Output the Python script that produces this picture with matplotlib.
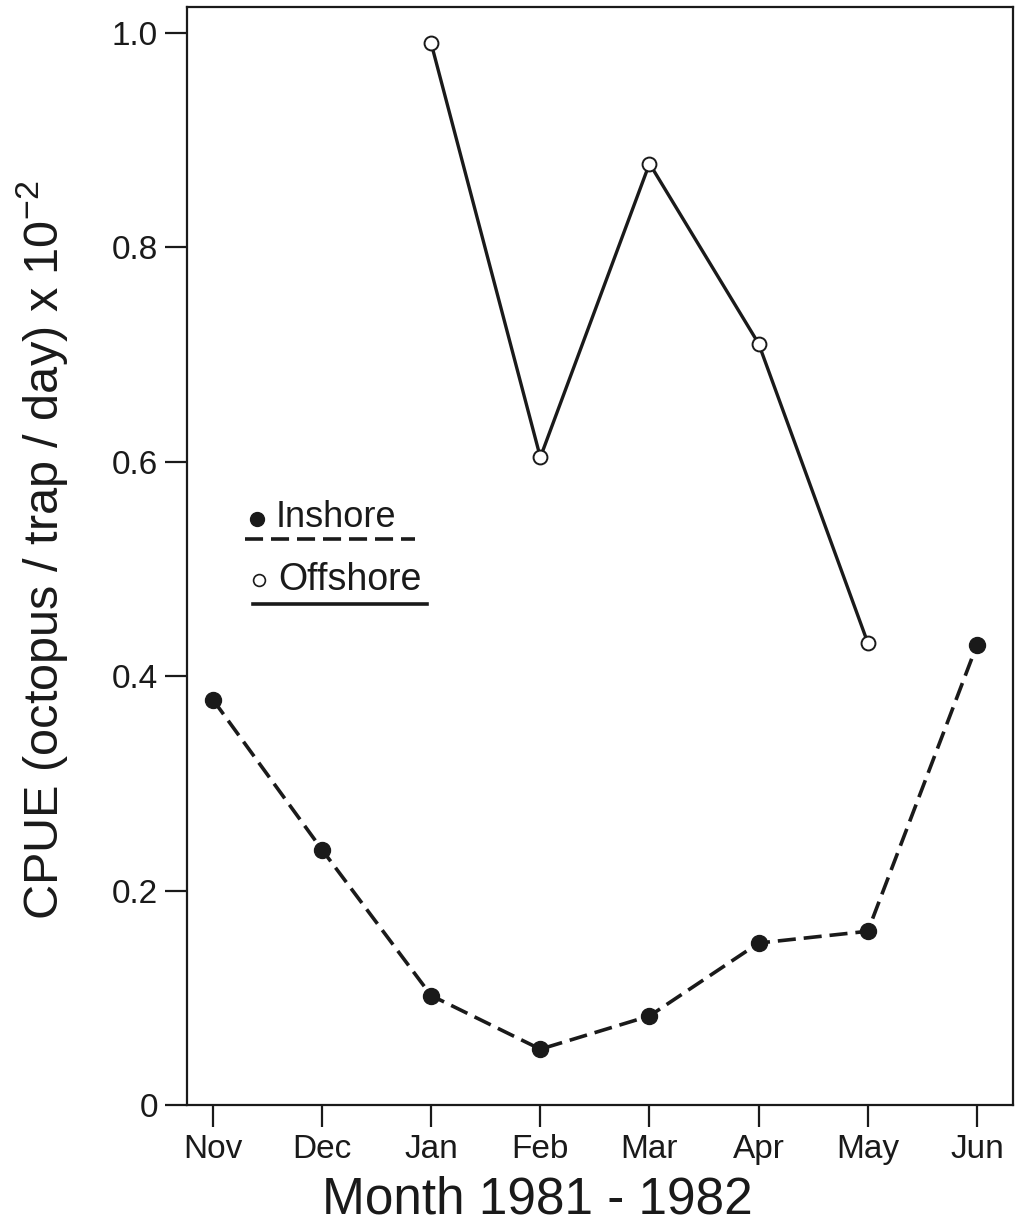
import numpy as np
import matplotlib
matplotlib.use('Agg')
import matplotlib.pyplot as plt

plt.rcParams['font.family'] = ['Liberation Sans', 'DejaVu Sans']
plt.rcParams['mathtext.fontset'] = 'custom'
plt.rcParams['mathtext.rm'] = 'Liberation Sans'
plt.rcParams['mathtext.it'] = 'Liberation Sans'

# data
months = ['Nov', 'Dec', 'Jan', 'Feb', 'Mar', 'Apr', 'May', 'Jun']
inshore = [0.378, 0.238, 0.102, 0.052, 0.083, 0.151, 0.162, 0.429]
offshore_months = ['Jan', 'Feb', 'Mar', 'Apr', 'May']
offshore = [0.990, 0.604, 0.878, 0.710, 0.431]
yticks = [0, 0.2, 0.4, 0.6, 0.8, 1.0]
ytick_labels = ['0', '0.2', '0.4', '0.6', '0.8', '1.0']

ink = '#1a1a1a'
dash = (0, (5.0, 2.2))

fig = plt.figure(figsize=(10.16, 12.28), dpi=100)
ax = fig.add_axes([0.184, 0.1002, 0.813, 0.8941])

x_in = np.arange(len(months))
x_off = [months.index(m) for m in offshore_months]

ax.plot(x_in, inshore, color=ink, lw=2.6, linestyle=dash,
        marker='o', markersize=11.5, markerfacecolor=ink, markeredgecolor=ink)
ax.plot(x_off, offshore, color=ink, lw=2.4, linestyle='-',
        marker='o', markersize=10, markerfacecolor='white',
        markeredgecolor=ink, markeredgewidth=1.4)

ax.set_xlim(-0.238, 7.33)
ax.set_ylim(0, 1.024)
ax.set_xticks(x_in)
ax.set_xticklabels(months)
ax.set_yticks(yticks)
ax.set_yticklabels(ytick_labels)

for sp in ax.spines.values():
    sp.set_linewidth(1.6)
    sp.set_color(ink)
ax.tick_params(axis='both', direction='out', length=16, width=1.6,
               color=ink, labelsize=24, labelcolor=ink, pad=5)

ax.set_xlabel('Month 1981 - 1982', fontsize=37, color=ink)
ax.xaxis.set_label_coords(0.424, -0.064)
ax.set_ylabel(r'CPUE (octopus / trap / day) x 10$^{-2}$', fontsize=35,
              color=ink, va='center')
ax.yaxis.set_label_coords(-0.176, 0.505)

# hand drawn key
ax.plot([0.0847], [0.5337], 'o', color=ink, markersize=10, transform=ax.transAxes)
ax.text(0.107, 0.535, 'Inshore', fontsize=26, color=ink, va='center',
        transform=ax.transAxes)
ax.plot([0.070, 0.276], [0.5155, 0.5155], color=ink, lw=2.6,
        linestyle=dash, transform=ax.transAxes)
ax.plot([0.0872], [0.478], 'o', color=ink, markersize=8.5,
        markerfacecolor='white', markeredgewidth=1.2, transform=ax.transAxes)
ax.text(0.110, 0.478, 'Offshore', fontsize=27, color=ink, va='center',
        transform=ax.transAxes)
ax.plot([0.080, 0.291], [0.4563, 0.4563], color=ink, lw=2.6,
        transform=ax.transAxes)

fig.savefig('out.png', dpi=100, facecolor='white')
